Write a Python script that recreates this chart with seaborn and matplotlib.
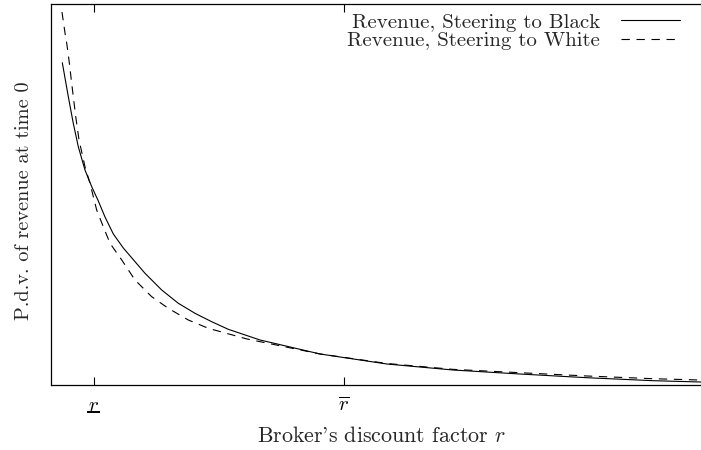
import matplotlib
matplotlib.use("Agg")
import matplotlib.pyplot as plt
import matplotlib.transforms as mtransforms
import seaborn as sns
import pandas as pd

# Broker's discount factor (axis fraction units) and present discounted value of revenue
r_black = [0.0171, 0.0262, 0.0337, 0.0413, 0.0514, 0.0616, 0.0716, 0.0817, 0.0943,
           0.1094, 0.1422, 0.1675, 0.1926, 0.2179, 0.2431, 0.2682, 0.3162, 0.4070,
           0.5083, 0.6082, 0.7095, 0.8109, 0.9107, 0.9818, 1.0]
rev_black = [0.8448, 0.7557, 0.6860, 0.6246, 0.5636, 0.5198, 0.4823, 0.4404, 0.3958,
             0.3591, 0.2928, 0.2490, 0.2142, 0.1879, 0.1659, 0.1460, 0.1180, 0.0813,
             0.0550, 0.0393, 0.0288, 0.0191, 0.0113, 0.0079, 0.0066]

r_white = [0.0166, 0.0212, 0.0238, 0.0272, 0.0313, 0.0374, 0.0424, 0.0514, 0.0590,
           0.0691, 0.0791, 0.0893, 0.1070, 0.1271, 0.1523, 0.1775, 0.2077, 0.2380,
           0.2965, 0.4070, 0.5083, 0.6082, 0.7095, 0.8109, 0.9107, 0.9818, 1.0]
rev_white = [0.9777, 0.9227, 0.8957, 0.8519, 0.7908, 0.7033, 0.6422, 0.5722, 0.5287,
             0.4587, 0.4149, 0.3714, 0.3277, 0.2752, 0.2315, 0.2010, 0.1704, 0.1486,
             0.1206, 0.0813, 0.0564, 0.0410, 0.0322, 0.0236, 0.0165, 0.0131, 0.0123]

series_labels = ["Revenue, Steering to Black", "Revenue, Steering to White"]
tick_positions = [0.065, 0.443]
tick_labels = [r"$r$", r"$\overline{r}$"]
x_label = r"Broker's discount factor $r$"
y_label = "P.d.v. of revenue at time 0"

df_black = pd.DataFrame({"r": r_black, "rev": rev_black})
df_white = pd.DataFrame({"r": r_white, "rev": rev_white})

sns.set_style("white")
plt.rcParams["font.family"] = ["cmr10"]
plt.rcParams["mathtext.fontset"] = "cm"
plt.rcParams["axes.formatter.use_mathtext"] = True

FS = 15

fig = plt.figure(figsize=(7.01, 4.5), dpi=100)
ax = fig.add_axes([51 / 701, 65 / 450, 661 / 701, 381.5 / 450])

sns.lineplot(data=df_black, x="r", y="rev", ax=ax, color="black", linewidth=0.8,
             label=series_labels[0])
sns.lineplot(data=df_white, x="r", y="rev", ax=ax, color="black", linewidth=0.8,
             linestyle=(0, (7.5, 6)), label=series_labels[1])

ax.set_xlim(0, 1)
ax.set_ylim(0, 1)
ax.set_xticks(tick_positions)
ax.set_xticklabels(tick_labels)
ax.set_yticks([])
ax.tick_params(axis="x", direction="in", top=True, bottom=True, length=5.8,
               width=0.8, labelsize=FS, pad=8.5, colors="black")

# underline beneath the lower-bound tick label
blend = mtransforms.blended_transform_factory(ax.transData, ax.transAxes)
ax.plot([tick_positions[0] - 0.0098, tick_positions[0] + 0.0098], [-0.071, -0.071],
        transform=blend, color="black", linewidth=1.4, clip_on=False,
        solid_capstyle="butt")

for side in ["left", "bottom", "top"]:
    ax.spines[side].set_visible(True)
    ax.spines[side].set_color("black")
    ax.spines[side].set_linewidth(0.9)
ax.spines["right"].set_visible(False)

ax.set_xlabel(x_label, fontsize=15.8)
ax.set_ylabel(y_label, fontsize=14.6)
ax.xaxis.set_label_coords(0.5, -0.107)
ax.yaxis.set_label_coords(-0.0273, 0.482)

ax.legend(loc="upper right", bbox_to_anchor=((680 - 51) / 661, 0.975),
          frameon=False, markerfirst=False, handlelength=2.83,
          handletextpad=1.0, labelspacing=0.0, borderpad=0, borderaxespad=0,
          fontsize=FS)

fig.savefig("out.png", dpi=100)
